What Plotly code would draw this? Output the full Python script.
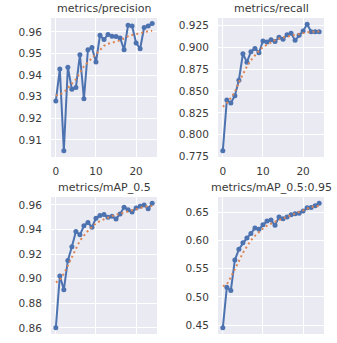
import plotly.graph_objects as go

epochs = list(range(25))

precision = [0.928, 0.9428, 0.905, 0.9436, 0.9334, 0.9342, 0.9494, 0.929, 0.9517, 0.9527,
             0.946, 0.9584, 0.9564, 0.9588, 0.958, 0.9578, 0.9572, 0.9517, 0.9631, 0.9627,
             0.9548, 0.9522, 0.962, 0.9627, 0.9638]
precision_smooth = [0.9305, 0.931, 0.932, 0.934, 0.936, 0.938, 0.941, 0.944, 0.946, 0.948,
                    0.950, 0.952, 0.9535, 0.9545, 0.955, 0.9555, 0.956, 0.957, 0.958, 0.9585,
                    0.959, 0.9595, 0.960, 0.9603, 0.9605]

recall = [0.7818, 0.8396, 0.8362, 0.8446, 0.8622, 0.8925, 0.8829, 0.8948, 0.8986, 0.8936,
          0.907, 0.9059, 0.9085, 0.9066, 0.9112, 0.9089, 0.9143, 0.9158, 0.9078, 0.9135,
          0.9185, 0.9261, 0.9177, 0.9177, 0.9177]
recall_smooth = [0.832, 0.836, 0.842, 0.849, 0.860, 0.870, 0.878, 0.885, 0.891, 0.896,
                 0.900, 0.903, 0.906, 0.908, 0.910, 0.911, 0.912, 0.913, 0.914, 0.915,
                 0.9165, 0.917, 0.9175, 0.918, 0.918]

map50 = [0.86, 0.9022, 0.8911, 0.9149, 0.926, 0.9384, 0.9357, 0.943, 0.9457, 0.9419,
         0.9492, 0.9514, 0.9522, 0.95, 0.9508, 0.9486, 0.9527, 0.9581, 0.9562, 0.9543,
         0.9576, 0.9589, 0.96, 0.957, 0.9614]
map50_smooth = [0.897, 0.899, 0.904, 0.911, 0.918, 0.925, 0.931, 0.935, 0.939, 0.942,
                0.945, 0.947, 0.9485, 0.950, 0.951, 0.952, 0.953, 0.954, 0.955, 0.956,
                0.957, 0.958, 0.9585, 0.959, 0.9592]

map5095 = [0.4453, 0.5172, 0.5114, 0.5652, 0.5845, 0.5956, 0.6044, 0.612, 0.6219, 0.6196,
           0.6278, 0.6342, 0.636, 0.6266, 0.6412, 0.6383, 0.6412, 0.6453, 0.6471, 0.6482,
           0.6518, 0.6576, 0.6582, 0.6611, 0.6658]
map5095_smooth = [0.519, 0.522, 0.535, 0.548, 0.563, 0.578, 0.590, 0.600, 0.608, 0.615,
                  0.621, 0.626, 0.630, 0.633, 0.636, 0.639, 0.642, 0.645, 0.648, 0.651,
                  0.654, 0.657, 0.659, 0.660, 0.661]

titles = ["metrics/precision", "metrics/recall", "metrics/mAP_0.5", "metrics/mAP_0.5:0.95"]
x_ticks = [0, 10, 20]

W, H = 337, 343
BLUE = "#4C72B0"
ORANGE = "#DD8452"
TXT = "#3a3a3a"

panels = [
    dict(y=precision, s=precision_smooth, xd=[51, 157], yd=[18, 157],
         yr=[0.9021, 0.9664], dt=0.01, t0=0.91, fmt=".2f"),
    dict(y=recall, s=recall_smooth, xd=[218, 324], yd=[18, 157],
         yr=[0.7746, 0.9333], dt=0.025, t0=0.775, fmt=".3f"),
    dict(y=map50, s=map50_smooth, xd=[51, 157], yd=[197, 334],
         yr=[0.855, 0.9665], dt=0.02, t0=0.86, fmt=".2f"),
    dict(y=map5095, s=map5095_smooth, xd=[218, 324], yd=[197, 334],
         yr=[0.4343, 0.6768], dt=0.05, t0=0.45, fmt=".2f"),
]

fig = go.Figure()
layout = dict(
    width=W, height=H, margin=dict(l=0, r=0, t=0, b=0, autoexpand=False),
    paper_bgcolor="white", plot_bgcolor="#EAEAF2", showlegend=False,
    font=dict(family="DejaVu Sans", size=10.5, color=TXT),
)
annotations = []
for i, p in enumerate(panels):
    n = "" if i == 0 else str(i + 1)
    xa, ya = "x" + n, "y" + n
    fig.add_trace(go.Scatter(x=epochs, y=p["y"], mode="lines+markers", xaxis=xa, yaxis=ya,
                             line=dict(color=BLUE, width=2), marker=dict(color=BLUE, size=5)))
    fig.add_trace(go.Scatter(x=epochs, y=p["s"], mode="lines", xaxis=xa, yaxis=ya,
                             line=dict(color=ORANGE, width=2, dash="2px,3px")))
    xdom = [p["xd"][0] / W, p["xd"][1] / W]
    ydom = [1 - p["yd"][1] / H, 1 - p["yd"][0] / H]
    layout["xaxis" + n] = dict(domain=xdom, range=[-1.2, 25.2], tickvals=x_ticks,
                               showgrid=True, gridcolor="white", gridwidth=1, zeroline=False,
                               ticks="outside", ticklen=4, tickcolor="rgba(0,0,0,0)",
                               anchor=ya, showline=False, automargin=False)
    yt = [round(p["t0"] + k * p["dt"], 4) for k in range(7) if p["t0"] + k * p["dt"] <= p["yr"][1]]
    layout["yaxis" + n] = dict(domain=ydom, range=p["yr"], tickvals=yt, tickformat=p["fmt"],
                               showgrid=True, gridcolor="white", gridwidth=1, zeroline=False,
                               ticks="outside", ticklen=6, tickcolor="rgba(0,0,0,0)",
                               anchor=xa, showline=False, automargin=False)
    annotations.append(dict(text=titles[i], x=(xdom[0] + xdom[1]) / 2, y=ydom[1],
                            xref="paper", yref="paper", xanchor="center", yanchor="bottom",
                            yshift=1, showarrow=False, font=dict(size=11, color=TXT)))
layout["annotations"] = annotations
fig.update_layout(**layout)
fig.write_html("out.html", config={"displayModeBar": False, "staticPlot": True},
               post_script="document.body.style.margin='0';document.body.style.overflow='hidden';")
